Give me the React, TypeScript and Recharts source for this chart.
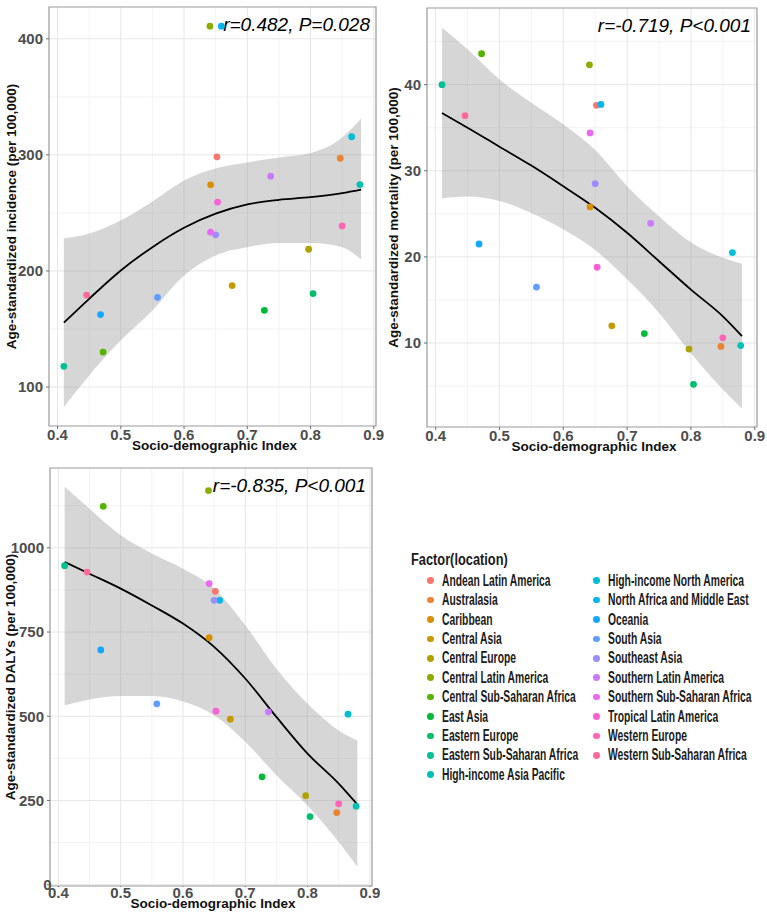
import React from 'react';
import {
  Area,
  CartesianGrid,
  Cell,
  ComposedChart,
  Label,
  Line,
  ReferenceArea,
  Scatter,
  XAxis,
  YAxis,
} from 'recharts';

// ─── Data ─────────────────────────────────────────────────────────────────────

const regions = [
  'Andean Latin America',
  'Australasia',
  'Caribbean',
  'Central Asia',
  'Central Europe',
  'Central Latin America',
  'Central Sub-Saharan Africa',
  'East Asia',
  'Eastern Europe',
  'Eastern Sub-Saharan Africa',
  'High-income Asia Pacific',
  'High-income North America',
  'North Africa and Middle East',
  'Oceania',
  'South Asia',
  'Southeast Asia',
  'Southern Latin America',
  'Southern Sub-Saharan Africa',
  'Tropical Latin America',
  'Western Europe',
  'Western Sub-Saharan Africa',
];

const regionColors = [
  '#F8766D', '#EB8335', '#DA8F00', '#C49A00', '#AFA200', '#8FAA00', '#53B400',
  '#00BA38', '#00BE6C', '#00C094', '#00C0B5', '#00BDD3', '#00B6EB', '#12A8FF',
  '#619CFF', '#9B8EFF', '#CB7AFF', '#E96AF1', '#FB61D7', '#FF63B6', '#FF6A98',
];

const sdi = [
  0.652, 0.847, 0.642, 0.676, 0.797, 0.641, 0.472, 0.727, 0.804, 0.41, 0.878,
  0.865, 0.659, 0.468, 0.558, 0.65, 0.737, 0.642, 0.653, 0.85, 0.446,
];

const incidence = [
  298.3, 297.1, 274.2, 187.4, 218.7, 410.9, 130.1, 166.1, 180.5, 117.8, 274.4,
  315.6, 410.9, 162.4, 177.3, 231.1, 281.6, 233.4, 259.3, 238.8, 179.2,
];

const mortality = [
  37.6, 9.6, 25.8, 12.0, 9.3, 42.3, 43.6, 11.1, 5.2, 40.0, 9.7,
  20.5, 37.7, 21.5, 16.5, 28.5, 23.9, 34.4, 18.8, 10.6, 36.4,
];

const dalys = [
  871, 214, 733, 491, 264, 1170, 1123, 320, 202, 947, 233,
  506, 844, 697, 537, 844, 513, 894, 515, 240, 928,
];

// loess fit + 95% band, read along the SDI grid
const smoothX = [0.41, 0.45, 0.5, 0.55, 0.6, 0.65, 0.7, 0.75, 0.8, 0.85, 0.88];

const incFit = [155.4, 176, 200.4, 220.5, 237.2, 249.3, 257.3, 261.3, 263.6, 267, 270];
const incLo = [82.7, 110, 140.2, 166, 196.1, 213.4, 220.5, 224, 224, 220.5, 209.7];
const incHi = [228, 232.3, 243.5, 259.9, 278, 288.3, 293.5, 297.8, 301.6, 315, 331.4];

const mortFit = [36.7, 35.0, 32.8, 30.6, 28.2, 25.7, 22.8, 19.5, 16.2, 13.1, 10.8];
const mortLo = [26.8, 27.0, 26.5, 25.1, 23.2, 20.8, 17.4, 13.5, 8.8, 4.6, 2.4];
const mortHi = [46.6, 44.1, 40.6, 37.9, 35.4, 32.4, 28.2, 24.7, 21.7, 19.9, 19.2];

const dalyFit = [958, 923, 879, 829, 775, 706, 612, 498, 389, 300, 238];
const dalyLo = [532, 550, 560, 560, 544, 503, 424, 325, 235, 127, 53];
const dalyHi = [1181, 1116, 1037, 983, 938, 879, 770, 641, 537, 458, 428];

const xTicks = [0.4, 0.5, 0.6, 0.7, 0.8, 0.9];
const xMinor = [0.45, 0.55, 0.65, 0.75, 0.85];
const incTicks = [100, 200, 300, 400];
const incMinor = [150, 250, 350];
const mortTicks = [10, 20, 30, 40];
const mortMinor = [5, 15, 25, 35, 45];
const dalyTicks = [0, 250, 500, 750, 1000];
const dalyMinor = [125, 375, 625, 875, 1125];

// ─── Styles ───────────────────────────────────────────────────────────────────

const FONT = "'Liberation Sans', Arial, sans-serif";
const X_DOMAIN: [number, number] = [0.3865, 0.9035];

const tickStyle = {
  fill: '#4D4D4D',
  fontSize: 15,
  fontWeight: 700,
  fontFamily: FONT,
};

const titleStyle = {
  fontFamily: FONT,
  fontSize: 13.5,
  fontWeight: 700,
  fill: '#111',
};

// ─── Panel ────────────────────────────────────────────────────────────────────

interface PanelProps {
  left: number;
  top: number;
  width: number;
  height: number;
  margin: { top: number; right: number; bottom: number; left: number };
  xAxisHeight: number;
  xTickSize: number;
  xTitleDy: number;
  yTitleX: number;
  yDomain: [number, number];
  yTicks: number[];
  yMinor: number[];
  values: number[];
  fit: number[];
  lo: number[];
  hi: number[];
  yTitle: string;
  stat: string;
  zeroShift?: number;
}

function YTick(props: any) {
  const { x, y, payload, zeroShift } = props;
  const dx = payload.value === 0 ? zeroShift ?? 0 : 0;
  return (
    <text x={x + dx} y={y} dy="0.355em" textAnchor="end" style={tickStyle}>
      {payload.value}
    </text>
  );
}

function Panel(p: PanelProps) {
  const rows = smoothX.map((x, i) => ({
    x,
    fit: p.fit[i],
    band: [p.lo[i], p.hi[i]],
  }));
  const points = sdi.map((x, i) => ({
    x,
    y: p.values[i],
    region: regions[i],
  }));

  return (
    <div style={{ position: 'absolute', left: p.left, top: p.top }}>
      <ComposedChart width={p.width} height={p.height} data={rows} margin={p.margin}>
        <CartesianGrid
          stroke="#F3F3F3"
          strokeWidth={1}
          verticalValues={xMinor}
          horizontalValues={p.yMinor}
        />
        <CartesianGrid
          stroke="#E6E6E6"
          strokeWidth={1}
          verticalValues={xTicks}
          horizontalValues={p.yTicks}
        />

        <XAxis
          dataKey="x"
          type="number"
          domain={X_DOMAIN}
          allowDataOverflow
          ticks={xTicks}
          tickFormatter={(v: number) => v.toFixed(1)}
          height={p.xAxisHeight}
          axisLine={false}
          tickLine={{ stroke: '#6E6E6E' }}
          tickSize={p.xTickSize}
          tickMargin={0}
          tick={tickStyle}
          interval={0}
        >
          <Label
            content={({ viewBox }: any) => (
              <text
                x={viewBox.x + viewBox.width / 2 + 2}
                y={viewBox.y + p.xTitleDy}
                textAnchor="middle"
                style={titleStyle}
              >
                Socio-demographic Index
              </text>
            )}
          />
        </XAxis>

        <YAxis
          type="number"
          domain={p.yDomain}
          allowDataOverflow
          ticks={p.yTicks}
          width={40}
          axisLine={false}
          tickLine={{ stroke: '#6E6E6E' }}
          tickSize={3}
          tickMargin={3}
          tick={<YTick zeroShift={p.zeroShift} />}
          interval={0}
        >
          <Label
            content={({ viewBox }: any) => {
              const cx = p.yTitleX;
              const cy = viewBox.y + viewBox.height / 2;
              return (
                <text
                  x={cx}
                  y={cy}
                  transform={`rotate(-90 ${cx} ${cy})`}
                  textAnchor="middle"
                  style={titleStyle}
                >
                  {p.yTitle}
                </text>
              );
            }}
          />
        </YAxis>

        <Area
          dataKey="band"
          type="monotone"
          stroke="none"
          fill="#999999"
          fillOpacity={0.4}
          isAnimationActive={false}
        />
        <Line
          dataKey="fit"
          type="monotone"
          stroke="#000"
          strokeWidth={1.8}
          dot={false}
          isAnimationActive={false}
        />
        <Scatter
          data={points}
          dataKey="y"
          isAnimationActive={false}
          shape={(s: any) => <circle cx={s.cx} cy={s.cy} r={3.4} fill={s.fill} />}
        >
          {points.map((pt, i) => (
            <Cell key={pt.region} fill={regionColors[i]} />
          ))}
        </Scatter>

        <ReferenceArea
          x1={X_DOMAIN[0]}
          x2={X_DOMAIN[1]}
          y1={p.yDomain[0]}
          y2={p.yDomain[1]}
          fill="none"
          stroke="#9A9A9A"
          strokeWidth={1.2}
          label={
            <Label
              content={({ viewBox }: any) => (
                <text
                  x={viewBox.x + viewBox.width - 6}
                  y={viewBox.y + 24}
                  textAnchor="end"
                  style={{
                    fontFamily: FONT,
                    fontSize: 19,
                    fontStyle: 'italic',
                    fill: '#000',
                  }}
                >
                  {p.stat}
                </text>
              )}
            />
          }
        />
      </ComposedChart>
    </div>
  );
}

// ─── Legend ───────────────────────────────────────────────────────────────────

function RegionLegend() {
  const rowY = (i: number) => 580.7 + i * 19.4;
  return (
    <div style={{ position: 'absolute', left: 0, top: 0, fontFamily: FONT, color: '#1A1A1A' }}>
      <div
        style={{
          position: 'absolute',
          left: 411,
          top: 551,
          fontSize: 16,
          fontWeight: 700,
          whiteSpace: 'nowrap',
          transform: 'scaleX(0.8)',
          transformOrigin: 'left center',
          lineHeight: '18px',
        }}
      >
        Factor(location)
      </div>
      {regions.map((name, i) => {
        const col = i < 11 ? 0 : 1;
        const row = col === 0 ? i : i - 11;
        const dotX = col === 0 ? 430.7 : 596.7;
        const y = rowY(row);
        return (
          <React.Fragment key={name}>
            <div
              style={{
                position: 'absolute',
                left: dotX - 3.4,
                top: y - 3.4,
                width: 6.8,
                height: 6.8,
                borderRadius: '50%',
                background: regionColors[i],
              }}
            />
            <div
              style={{
                position: 'absolute',
                left: dotX + 11,
                top: y - 9,
                fontSize: 16,
                fontWeight: 700,
                lineHeight: '18px',
                whiteSpace: 'nowrap',
                transform: 'scaleX(0.645)',
                transformOrigin: 'left center',
              }}
            >
              {name}
            </div>
          </React.Fragment>
        );
      })}
    </div>
  );
}

// ─── App ──────────────────────────────────────────────────────────────────────

export default function App() {
  return (
    <div
      style={{
        position: 'absolute',
        left: 0,
        top: 0,
        width: 767,
        height: 919,
        background: '#fff',
        overflow: 'hidden',
      }}
    >
      <Panel
        left={0}
        top={0}
        width={384}
        height={460}
        margin={{ top: 7, right: 8, bottom: 0, left: 9 }}
        xAxisHeight={34}
        xTickSize={3}
        xTitleDy={23.5}
        yTitleX={15.5}
        yDomain={[66.4, 427.4]}
        yTicks={incTicks}
        yMinor={incMinor}
        values={incidence}
        fit={incFit}
        lo={incLo}
        hi={incHi}
        yTitle="Age-standardized incidence (per 100,000)"
        stat="r=0.482, P=0.028"
      />
      <Panel
        left={370}
        top={0}
        width={397}
        height={460}
        margin={{ top: 8, right: 10, bottom: 0, left: 17 }}
        xAxisHeight={33}
        xTickSize={3}
        xTitleDy={23.5}
        yTitleX={28}
        yDomain={[0.25, 48.9]}
        yTicks={mortTicks}
        yMinor={mortMinor}
        values={mortality}
        fit={mortFit}
        lo={mortLo}
        hi={mortHi}
        yTitle="Age-standardized mortality (per 100,000)"
        stat="r=-0.719, P<0.001"
      />
      <Panel
        left={0}
        top={460}
        width={384}
        height={459}
        margin={{ top: 8, right: 12, bottom: 0, left: 10 }}
        xAxisHeight={33}
        xTickSize={1}
        xTitleDy={21.5}
        yTitleX={14.5}
        yDomain={[-4, 1237]}
        yTicks={dalyTicks}
        yMinor={dalyMinor}
        values={dalys}
        fit={dalyFit}
        lo={dalyLo}
        hi={dalyHi}
        yTitle="Age-standardized DALYs (per 100,000)"
        stat="r=-0.835, P<0.001"
        zeroShift={7.5}
      />
      <RegionLegend />
    </div>
  );
}
